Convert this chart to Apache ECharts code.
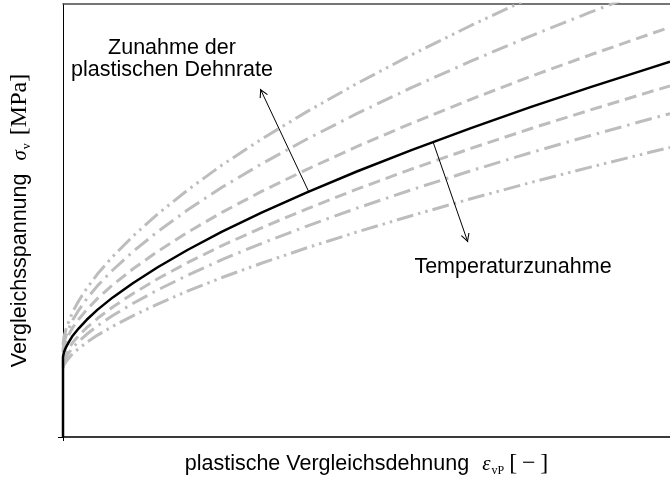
<!DOCTYPE html>
<html>
<head>
<meta charset="utf-8">
<script src="https://cdn.jsdelivr.net/npm/echarts@6/dist/echarts.min.js"></script>
<style>
html, body {margin: 0; padding: 0; background: #fff;}
#main {width: 670px; height: 487px;}
</style>
</head>
<body>
<div id="main"></div>
<script>
// plastische Vergleichsdehnung (relativ, 0..100)
var strain = [0, 0.16, 0.5, 1, 1.6, 2.6, 3.9, 5.7, 8.2, 11.5, 15.6, 20.5, 26.2, 32.8, 40.2, 48.4, 57.4, 67.2, 77, 86.9, 96.7, 100];
// Vergleichsspannung (relativ, 0..100) -- von oben nach unten
var rateHigh2 = [21.25, 23.12, 24.92, 26.86, 28.91, 31.46, 34.32, 37.69, 41.69, 46.35, 51.50, 57.00, 62.82, 68.87, 75.15, 81.62, 88.25, 95.04, 101.43, 107.53, 113.4, 115.6];
var rateHigh1 = [20.09, 21.80, 23.42, 25.17, 27.02, 29.31, 31.89, 34.97, 38.57, 42.79, 47.44, 52.42, 57.67, 63.14, 68.82, 74.67, 80.67, 86.81, 92.59, 98.11, 103.39, 105.4];
var rateHigh0 = [19.63, 20.95, 22.26, 23.72, 25.27, 27.21, 29.40, 32.01, 35.13, 38.80, 42.86, 47.25, 51.89, 56.77, 61.82, 67.07, 72.45, 77.99, 83.26, 88.27, 93.05, 94.62];
var reference = [18.48, 19.61, 20.74, 22.01, 23.39, 25.10, 27.07, 29.42, 32.24, 35.52, 39.21, 43.19, 47.44, 51.87, 56.51, 61.32, 66.26, 71.34, 76.17, 80.79, 85.20, 86.65];
var tempHigh0 = [17.32, 18.34, 19.40, 20.55, 21.82, 23.42, 25.24, 27.41, 30.02, 33.09, 36.54, 40.25, 44.20, 48.38, 52.70, 57.23, 61.87, 66.65, 71.20, 75.54, 79.72, 81.06];
var tempHigh1 = [16.63, 17.53, 18.45, 19.52, 20.65, 22.08, 23.72, 25.68, 28.06, 30.83, 33.97, 37.34, 40.97, 44.76, 48.71, 52.84, 57.09, 61.48, 65.64, 69.63, 73.44, 74.69];
var tempHigh2 = [15.94, 16.65, 17.41, 18.29, 19.24, 20.44, 21.85, 23.53, 25.57, 27.99, 30.69, 33.67, 36.84, 40.18, 43.70, 47.34, 51.11, 55.03, 58.75, 62.33, 65.75, 66.88];
// Pfeile [von, nach] in Datenkoordinaten
var arrowRate = [[40.5, 56.6], [32.5, 80.4]];
var arrowTemp = [[61, 68.0], [66.7, 45.0]];

var SANS = 'Liberation Sans';
var SERIF = 'Liberation Serif';
var GRAY = '#bdbdbd';
var DASH = [12, 6];
var DASH_DOT = [17, 6, 2.5, 6];
var DASH_DOT_DOT = [17, 5, 2.5, 5, 2.5, 5];
var OPEN_ARROW = 'path://M5,-10.6 L5,-10.6 Z M0,10 L5,0 L10,10 L8.9,10.6 L5,2.6 L1.1,10.6 Z';

function pairs(values) {
    var out = [];
    for (var i = 0; i < strain.length; i++) {
        out.push([strain[i], values[i]]);
    }
    return out;
}

function grayCurve(name, values, dash) {
    return {
        name: name, type: 'line', data: pairs(values), symbol: 'none',
        lineStyle: {color: GRAY, width: 3, type: dash, cap: 'butt'},
        silent: true, z: 2
    };
}

function arrow(coords) {
    return [{coord: coords[0], symbol: 'none'}, {coord: coords[1], symbol: OPEN_ARROW, symbolSize: [9, 17]}];
}

// Achsentitel: Text + Formelzeichen
function axisRich(subPad) {
    return {
        t: {fontFamily: SANS, fontSize: 21.5, color: '#000', lineHeight: 26},
        sp: {width: 13},
        m: {fontFamily: SERIF, fontStyle: 'italic', fontSize: 21, color: '#000', lineHeight: 26},
        s: {fontFamily: SERIF, fontSize: 12, color: '#000', verticalAlign: 'bottom', lineHeight: 16, padding: [0, subPad, 0, 1]},
        b: {fontFamily: SERIF, fontSize: 24, color: '#000', lineHeight: 26}
    };
}

var refData = [[0, 0]].concat(pairs(reference));

var option = {
    animation: false,
    grid: {left: 60, right: 0, top: 4, bottom: 50},
    xAxis: [{
        type: 'value', min: 0, max: 100, position: 'bottom',
        axisLine: {show: true, onZero: false, lineStyle: {color: '#3a3a3a', width: 2}},
        axisTick: {show: true, customValues: [0], length: 4, lineStyle: {color: '#000', width: 1}},
        axisLabel: {show: false},
        splitLine: {show: false},
        name: '{t|plastische Vergleichsdehnung}{sp|}{m|ε}{s|vP}{b|[\u2009−\u2009]}',
        nameLocation: 'middle',
        nameGap: 14,
        nameTextStyle: {rich: axisRich(5)}
    }, {
        type: 'value', min: 0, max: 100, position: 'top',
        axisLine: {show: true, onZero: false, lineStyle: {color: '#4a4a4a', width: 1.5}},
        axisTick: {show: false}, axisLabel: {show: false}, splitLine: {show: false}
    }],
    yAxis: {
        type: 'value', min: 0, max: 100,
        axisLine: {show: true, onZero: false, lineStyle: {color: '#000', width: 1}},
        axisTick: {show: true, customValues: [0], length: 5, lineStyle: {color: '#000', width: 1}},
        axisLabel: {show: false},
        splitLine: {show: false},
        name: '{t|Vergleichsspannung}{sp|}{m|σ}{s|v}{b|[MPa]}',
        nameLocation: 'middle',
        nameGap: 30,
        nameTextStyle: {rich: axisRich(8)}
    },
    series: [
        grayCurve('rate2', rateHigh2, DASH_DOT_DOT),
        grayCurve('rate1', rateHigh1, DASH_DOT),
        grayCurve('rate0', rateHigh0, DASH),
        grayCurve('temp0', tempHigh0, DASH),
        grayCurve('temp1', tempHigh1, DASH_DOT),
        grayCurve('temp2', tempHigh2, DASH_DOT_DOT),
        {
            name: 'reference', type: 'line', data: refData, symbol: 'none',
            lineStyle: {color: '#000', width: 2.5},
            silent: true, z: 5,
            markLine: {
                silent: true, animation: false,
                lineStyle: {color: '#000', width: 1, type: 'solid'},
                label: {show: false},
                data: [arrow(arrowRate), arrow(arrowTemp)]
            }
        }
    ],
    graphic: [{
        type: 'text', x: 172, y: 59,
        style: {text: 'Zunahme der\nplastischen Dehnrate', font: '21.5px "' + SANS + '"', fill: '#000', align: 'center', verticalAlign: 'middle', lineHeight: 22}
    }, {
        type: 'text', x: 513, y: 267,
        style: {text: 'Temperaturzunahme', font: '21.5px "' + SANS + '"', fill: '#000', align: 'center', verticalAlign: 'middle'}
    }]
};

var myChart = echarts.init(document.getElementById('main'), null, {renderer: 'canvas'});
myChart.setOption(option);
</script>
</body>
</html>
